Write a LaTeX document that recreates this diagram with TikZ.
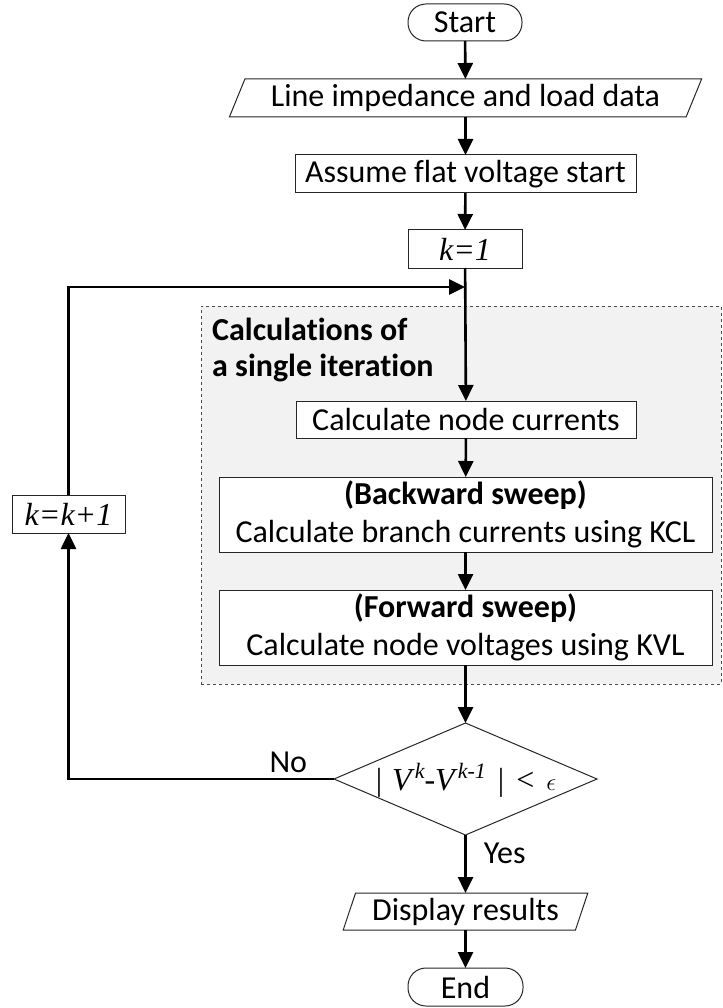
\documentclass[tikz,border=0pt]{standalone}
\usepackage{fontspec}
\setmainfont{Carlito}[Ligatures=NoCommon]
\newfontfamily\serif{Liberation Serif}
\usetikzlibrary{shapes.geometric,arrows.meta}
\definecolor{grpfill}{HTML}{F2F2F2}
\begin{document}
\begin{tikzpicture}[x=1pt,y=-1pt,
  font=\fontsize{32}{38}\selectfont,
  box/.style={draw=black!85, line width=1pt, fill=white, inner sep=0pt, outer sep=0pt, align=center},
  term/.style={box, rounded corners=18pt},
  io/.style={box, trapezium, trapezium stretches=true},
  conn/.style={line width=2.6pt, -{Triangle[length=16pt,width=15pt]}},
  mathtxt/.style={font=\fontsize{32}{38}\selectfont\serif}
]
\useasboundingbox (0,0) rectangle (722,1008);

% group background
\node[draw=black!70, fill=grpfill, dashed, line width=0.8pt, minimum width=520, minimum height=378, inner sep=0pt, outer sep=0pt] (grp) at (461,495) {};
\node[anchor=west, align=left, font=\fontsize{32}{36}\selectfont\bfseries, inner sep=0pt] (title) at (212,350) {Calculations of\\a single iteration};

% nodes
\node[term, minimum width=114, minimum height=37] (start) at (465,22.5) {Start};
\node[io, trapezium left angle=63.4, trapezium right angle=116.6, minimum width=473, minimum height=38] (input) at (465.5,98) {Line impedance and load data};
\node[box, minimum width=341, minimum height=38] (flat) at (465.5,174) {Assume flat voltage start};
\node[box, minimum width=114, minimum height=38, mathtxt] (k1) at (465,249) {\itshape k=1};
\coordinate (join) at (465,287);
\node[box, minimum width=340, minimum height=37] (nc) at (466,419.5) {Calculate node currents};
\node[box, minimum width=493, minimum height=75] (bw) at (465.5,514.5) {\textbf{(Backward sweep)}\\Calculate branch currents using KCL};
\node[box, minimum width=493, minimum height=75] (fw) at (465.5,627.5) {\textbf{(Forward sweep)}\\Calculate node voltages using KVL};
\node[box, diamond, minimum width=263, minimum height=112] (dec) at (465.5,779) {};
\node[mathtxt, inner sep=0pt] (dectext) at (466,780) {|\hspace{10pt}\textit{V}\raisebox{12pt}{\fontsize{22}{24}\selectfont\itshape k}-\textit{V}\raisebox{12pt}{\fontsize{22}{24}\selectfont\itshape k-1}\hspace{12pt}|\hspace{12pt}<\hspace{12pt}{\fontsize{36}{38}\selectfont$\epsilon$}};
\node[io, trapezium left angle=69, trapezium right angle=111, minimum width=245, minimum height=37] (disp) at (465.5,911.5) {Display results};
\node[term, minimum width=115, minimum height=38] (end) at (465.5,987) {End};
\node[box, minimum width=113, minimum height=38, mathtxt] (kk) at (68.5,514) {\itshape k=k+1};

% connectors
\draw[conn] (start) -- (input);
\draw[conn] (input) -- (flat);
\draw[conn] (flat) -- (k1);
\draw[conn] (k1) -- (nc);
\draw[conn] (nc) -- (bw);
\draw[conn] (bw) -- (fw);
\draw[conn] (fw) -- (dec);
\draw[conn] (dec) -- node[anchor=west, inner sep=0pt, pos=0.31, xshift=17pt] (yes) {Yes} (disp);
\draw[conn] (disp) -- (end);
\draw[conn] (dec.west) -| node[pos=0.086, above, inner sep=5pt] (no) {No} (kk.south);
\draw[conn] (kk.north) |- (join);
\end{tikzpicture}
\end{document}
